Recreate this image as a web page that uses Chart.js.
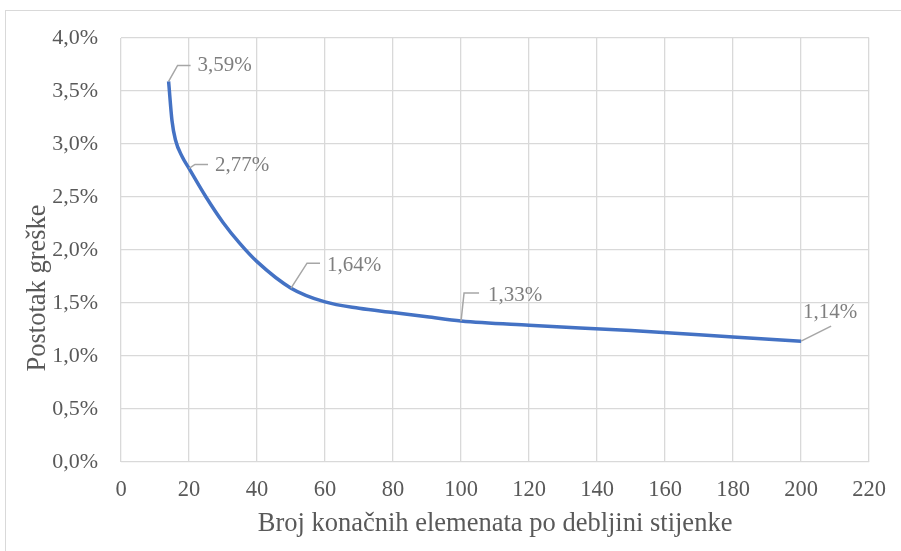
<!DOCTYPE html>
<html>
<head>
<meta charset="utf-8">
<script src="https://cdn.jsdelivr.net/npm/chart.js@4/dist/chart.umd.min.js"></script>
<style>
  html, body { margin: 0; padding: 0; background: #fff; }
  #wrap { position: relative; width: 901px; height: 551px; }
  #frame { position: absolute; left: 5px; top: 10px; width: 900px; height: 560px; border: 1px solid #d9d9d9; box-sizing: border-box; }
  #graph { position: absolute; left: 0; top: 0; }
</style>
</head>
<body>
<div id="wrap">
  <div id="frame"></div>
  <canvas id="graph" width="901" height="551"></canvas>
</div>
<script>
// données
const elementi = [14, 15, 16, 18, 20, 25, 30, 35, 40, 50, 60, 70, 80, 90, 100, 120, 150, 180, 200];
const greska = [3.59, 3.22, 3.04, 2.88, 2.77, 2.50, 2.26, 2.06, 1.89, 1.64, 1.51, 1.45, 1.41, 1.37, 1.33, 1.29, 1.24, 1.18, 1.14];
const oznaceni = [14, 20, 50, 100, 200];
const xTicks = [0, 20, 40, 60, 80, 100, 120, 140, 160, 180, 200, 220];
const yTicks = [0, 0.5, 1, 1.5, 2, 2.5, 3, 3.5, 4];

const naslovX = 'Broj konačnih elemenata po debljini stijenke';
const naslovY = 'Postotak greške';

const fmt = (v, d) => v.toFixed(d).replace('.', ',') + '%';

// décalages des étiquettes (coude, fin de ligne, position du texte)
const leader = {
  14:  { dx1: 9,  dy1: -16, dx2: 22, tx: 29, ty: -16 },
  20:  { dx1: 6,  dy1: -4,  dx2: 19, tx: 26, ty: -3 },
  50:  { dx1: 16, dy1: -25, dx2: 29, tx: 36, ty: -23 },
  100: { dx1: 3,  dy1: -28, dx2: 18, tx: 27, ty: -26 },
  200: { dx1: 30, dy1: -15, dx2: 30, tx: 29, ty: -29, center: true }
};

const labelPlugin = {
  id: 'labels',
  afterDatasetsDraw(chart) {
    const ctx = chart.ctx;
    const xs = chart.scales.x, ys = chart.scales.y;
    ctx.save();
    ctx.font = '21px "Liberation Serif"';
    ctx.textBaseline = 'middle';
    oznaceni.forEach(xv => {
      const i = elementi.indexOf(xv);
      const px = xs.getPixelForValue(xv), py = ys.getPixelForValue(greska[i]);
      const l = leader[xv];
      ctx.strokeStyle = '#a6a6a6';
      ctx.lineWidth = 1.5;
      ctx.beginPath();
      ctx.moveTo(px, py);
      ctx.lineTo(px + l.dx1, py + l.dy1);
      ctx.lineTo(px + l.dx2, py + l.dy1);
      ctx.stroke();
      ctx.fillStyle = '#7f7f7f';
      ctx.textAlign = l.center ? 'center' : 'left';
      ctx.fillText(fmt(greska[i], 2), px + l.tx, py + l.ty);
    });
    // titre de l'axe Y
    ctx.translate(38, 288);
    ctx.rotate(-Math.PI / 2);
    ctx.font = '26.5px "Liberation Serif"';
    ctx.fillStyle = '#595959';
    ctx.textAlign = 'center';
    ctx.fillText(naslovY, 0, 0);
    ctx.restore();
  }
};

const ctx = document.getElementById('graph').getContext('2d');
new Chart(ctx, {
  type: 'scatter',
  data: {
    datasets: [{
      data: elementi.map((x, i) => ({ x: x, y: greska[i] })),
      showLine: true,
      borderColor: '#4472c4',
      borderWidth: 3.5,
      pointRadius: 0,
      cubicInterpolationMode: 'monotone'
    }]
  },
  options: {
    responsive: false,
    animation: false,
    layout: { padding: { left: 0, top: 38, right: 30, bottom: 0 } },
    plugins: { legend: { display: false }, tooltip: { enabled: false } },
    scales: {
      x: {
        type: 'linear', min: 0, max: 220,
        afterBuildTicks: s => { s.ticks = xTicks.map(v => ({ value: v })); },
        afterFit: s => { s.height = 89; },
        grid: { color: '#d9d9d9', lineWidth: 1.3, drawTicks: false },
        border: { display: false },
        ticks: { color: '#595959', font: { family: 'Liberation Serif', size: 22.5 }, padding: 15, maxRotation: 0 },
        title: { display: true, text: naslovX, color: '#595959', font: { family: 'Liberation Serif', size: 26.5 }, padding: { top: 0, bottom: 11 } }
      },
      y: {
        type: 'linear', min: 0, max: 4,
        afterBuildTicks: s => { s.ticks = yTicks.map(v => ({ value: v })); },
        afterFit: s => { s.width = 121; },
        grid: { color: '#d9d9d9', lineWidth: 1.3, drawTicks: false },
        border: { display: false },
        ticks: { color: '#595959', font: { family: 'Liberation Serif', size: 22 }, padding: 23, callback: v => fmt(v, 1) }
      }
    }
  },
  plugins: [labelPlugin]
});
</script>
</body>
</html>
